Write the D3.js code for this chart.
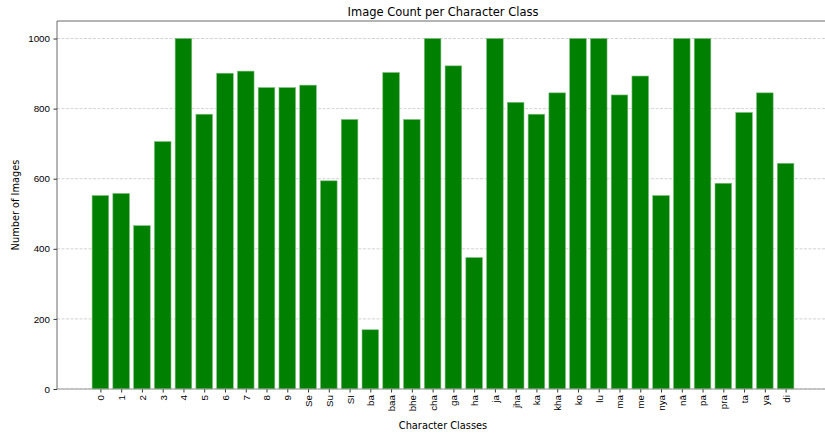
<!DOCTYPE html>
<html>
<head>
<meta charset="utf-8">
<script src="https://cdn.jsdelivr.net/npm/d3@7"></script>
<style>
  body { margin: 0; background: #fff; }
  svg { font-family: "DejaVu Sans", sans-serif; }
</style>
</head>
<body>
<script>
// values
var classes = ['0', '1', '2', '3', '4', '5', '6', '7', '8', '9', 'Se', 'Su', 'SI',
               'ba', 'baa', 'bhe', 'cha', 'ga', 'ha', 'ja', 'jha', 'ka', 'kha',
               'ko', 'lu', 'ma', 'me', 'nya', 'nā', 'pa', 'pra', 'ta', 'ya', 'di'];
var counts = [552, 558, 466, 706, 1000, 784, 901, 907, 860, 860, 867, 594, 769,
              169, 903, 769, 1000, 922, 375, 1000, 818, 784, 845,
              1000, 1000, 839, 893, 552, 1000, 1000, 587, 789, 845, 644];
var yTicks = [0, 200, 400, 600, 800, 1000];

var W = 825, H = 435;
var margin = {left: 57, right: -4, top: 21, bottom: 46};
var plotW = W - margin.left - margin.right,
    plotH = H - margin.top - margin.bottom;

var svg = d3.select("body").append("svg")
        .attr("width", W)
        .attr("height", H);

// matplotlib style x limits: bars are 0.8 wide, 5% margin on each side
var n = classes.length;
var span = (n - 1) + 0.8;
var x = d3.scaleLinear()
        .domain([-0.4 - 0.05 * span, n - 1 + 0.4 + 0.05 * span])
        .range([0, plotW]);
var y = d3.scaleLinear()
        .domain([0, 1050])
        .range([plotH, 0]);

var g = svg.append("g")
        .attr("transform", "translate(" + margin.left + "," + margin.top + ")");

// grid
g.append("g").selectAll("line")
        .data(yTicks).enter()
    .append("line")
        .attr("x1", 0).attr("x2", plotW)
        .attr("y1", function(d) { return y(d); })
        .attr("y2", function(d) { return y(d); })
        .style("stroke", "#c8c8c8")
        .style("stroke-width", 0.8)
        .style("stroke-dasharray", "3,1.5");

// bars
var bw = x(0.8) - x(0);
g.append("g").selectAll("rect")
        .data(counts).enter()
    .append("rect")
        .attr("x", function(d, i) { return x(i - 0.4); })
        .attr("y", function(d) { return y(d); })
        .attr("width", bw)
        .attr("height", function(d) { return y(0) - y(d); })
        .style("fill", "green")
        .style("stroke", "#7fbf7f")
        .style("stroke-width", 0.6);

// axes
var yAxis = d3.axisLeft(y).tickValues(yTicks).tickFormat(d3.format("d"))
        .tickSize(3.5).tickPadding(3.5);
var xAxis = d3.axisBottom(x).tickValues(d3.range(n))
        .tickFormat(function(i) { return classes[i]; })
        .tickSize(3.5).tickPadding(3.5);

var gy = g.append("g").call(yAxis);
gy.select(".domain").remove();
gy.selectAll("text").style("font-size", "9.8px").style("fill", "#000");
gy.selectAll("line").style("stroke", "#333");

var gx = g.append("g").attr("transform", "translate(0," + plotH + ")").call(xAxis);
gx.select(".domain").remove();
gx.selectAll("line").style("stroke", "#333");
gx.selectAll("text")
        .style("font-size", "9.8px")
        .style("fill", "#000")
        .attr("transform", "rotate(-90)")
        .attr("x", -6)
        .attr("y", 0)
        .attr("dy", "0.35em")
        .style("text-anchor", "end");

// spines
g.append("line").attr("x1", 0).attr("x2", 0).attr("y1", 0).attr("y2", plotH)
        .style("stroke", "#444").style("stroke-width", 0.8);
g.append("line").attr("x1", 0).attr("x2", plotW).attr("y1", 0).attr("y2", 0)
        .style("stroke", "#444").style("stroke-width", 0.8);
g.append("line").attr("x1", 0).attr("x2", plotW).attr("y1", plotH).attr("y2", plotH)
        .style("stroke", "#999").style("stroke-width", 1.2);

// labels
svg.append("text")
        .attr("x", margin.left + plotW / 2).attr("y", 16)
        .attr("text-anchor", "middle")
        .style("font-size", "11.5px").style("fill", "#000")
        .text("Image Count per Character Class");
svg.append("text")
        .attr("x", margin.left + plotW / 2).attr("y", 429)
        .attr("text-anchor", "middle")
        .style("font-size", "9.8px").style("fill", "#000")
        .text("Character Classes");
svg.append("text")
        .attr("transform", "translate(19," + (margin.top + plotH / 2) + ") rotate(-90)")
        .attr("text-anchor", "middle")
        .style("font-size", "9.8px").style("fill", "#000")
        .text("Number of Images");
</script>
</body>
</html>
